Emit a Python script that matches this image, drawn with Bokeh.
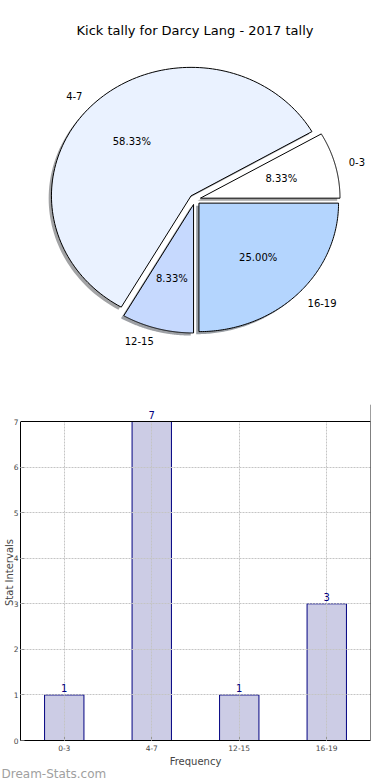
import numpy as np
from bokeh.plotting import figure
from bokeh.models import (Range1d, FactorRange, ColumnDataSource, LabelSet, Label, Title,
                          FixedTicker, Span, BoxAnnotation)
from bokeh.layouts import column
from bokeh.core.properties import value
from bokeh.embed import file_html
from bokeh.resources import INLINE

# ---------------- data ----------------
title_text = "Kick tally for Darcy Lang - 2017 tally"
categories = ["0-3", "4-7", "12-15", "16-19"]
counts = [1, 7, 1, 3]
slice_colors = ["#ffffff", "#eaf2ff", "#c6d9fe", "#b4d5fe"]
y_ticks = [0, 1, 2, 3, 4, 5, 6, 7]
y_max = 7
x_label = "Frequency"
y_label = "Stat Intervals"
watermark = "Dream-Stats.com"

FONT = "DejaVu Sans"
W = 390
BL, BR = 19, 20            # frame left / right border shared by both plots

# ---------------- pie ----------------
H1 = 400
SX, SY = 140.0, 128.5      # px per unit radius (x, y)
CXP, CYP = 194.0, 199.0    # pie centre on the page
EXPLODE = 0.04
SHADOW = 0.02
fw = W - BL - BR
cxf = CXP - BL

p1 = figure(width=W, height=H1, output_backend="svg", toolbar_location=None, title=None,
            x_range=Range1d(-cxf / SX, (fw - cxf) / SX),
            y_range=Range1d(-(H1 - CYP) / SY, CYP / SY),
            x_axis_location=None, y_axis_location=None,
            min_border_left=BL, min_border_right=BR, min_border_top=0, min_border_bottom=0)
p1.grid.visible = False
p1.outline_line_color = None

total = float(sum(counts))
xs, ys, sxs, sys_ = [], [], [], []
lab_l, lab_r, pct = dict(x=[], y=[], t=[]), dict(x=[], y=[], t=[]), dict(x=[], y=[], t=[])
theta = 0.0
for cat, c in zip(categories, counts):
    t1 = theta
    t2 = theta + 2 * np.pi * c / total
    tm = 0.5 * (t1 + t2)
    ex, ey = EXPLODE * np.cos(tm), EXPLODE * np.sin(tm)
    arc = np.linspace(t1, t2, 120)
    px = np.concatenate([[ex], ex + np.cos(arc), [ex]])
    py = np.concatenate([[ey], ey + np.sin(arc), [ey]])
    xs.append(px.tolist()); ys.append(py.tolist())
    sxs.append((px - SHADOW).tolist()); sys_.append((py - SHADOW).tolist())
    lx, ly = ex + 1.1 * np.cos(tm), ey + 1.1 * np.sin(tm)
    d = lab_l if lx > 0 else lab_r
    d["x"].append(lx); d["y"].append(ly); d["t"].append(cat)
    pct["x"].append(ex + 0.6 * np.cos(tm)); pct["y"].append(ey + 0.6 * np.sin(tm))
    pct["t"].append("%.2f%%" % (100.0 * c / total))
    theta = t2

def darker(h, f=0.3):
    r, g, b = int(h[1:3], 16), int(h[3:5], 16), int(h[5:7], 16)
    return "#%02x%02x%02x" % (int(r * f), int(g * f), int(b * f))

p1.patches(sxs, sys_, fill_color=[darker(c) for c in slice_colors], fill_alpha=0.5,
           line_color=None)
p1.patches(xs, ys, fill_color=slice_colors, line_color="black", line_width=1)

for d, al in ((lab_l, "left"), (lab_r, "right"), (pct, "center")):
    p1.text(x=d["x"], y=d["y"], text=d["t"], text_align=al, text_baseline="middle",
            text_font=value(FONT), text_font_size="10px", text_color="black")

p1.add_layout(Label(x=0, y=(CYP - 30) / SY, text=title_text,
                    text_align="center", text_baseline="middle",
                    text_font=FONT, text_font_size="13px", text_color="black"))

# ---------------- bars ----------------
H2 = 780 - H1
FT, FB = 421, 740                       # reference frame top / bottom (y = 0..7)
frame_top = 404                         # extended frame top (room for value labels)
pxu_y = (FB - FT) / float(y_max)
p2 = figure(width=W, height=H2, output_backend="svg", toolbar_location=None, title=None,
            x_range=FactorRange(*categories, range_padding=0),
            y_range=Range1d(0, (FB - frame_top) / pxu_y),
            min_border_left=BL, min_border_right=BR,
            min_border_top=frame_top - H1, min_border_bottom=780 - FB)
src = ColumnDataSource(dict(cat=categories, count=counts, lab=[str(c) for c in counts]))
p2.vbar(x="cat", top="count", width=0.45, source=src, fill_color="#cccce5",
        line_color="#000080", line_width=1)
p2.outline_line_color = None

for ax in (p2.xaxis[0], p2.yaxis[0]):
    ax.axis_line_color = "black"
    ax.major_tick_in = 4
    ax.major_tick_out = 0
    ax.minor_tick_line_color = None
    ax.major_label_text_font = FONT
    ax.major_label_text_font_size = "7.5px"
    ax.major_tick_line_color = "#666666"
    ax.axis_label_text_font = FONT
    ax.axis_label_text_font_size = "10px"
    ax.axis_label_text_font_style = "normal"
p2.yaxis[0].ticker = FixedTicker(ticks=y_ticks)
p2.yaxis[0].bounds = (0, y_max)
p2.yaxis[0].axis_label = y_label
p2.yaxis[0].major_label_standoff = 2
p2.yaxis[0].axis_label_standoff = -4
p2.xaxis[0].axis_label = x_label
p2.xaxis[0].major_label_standoff = 4
p2.xaxis[0].axis_label_standoff = 2

p2.grid.grid_line_color = "#c4c4c4"
p2.grid.grid_line_dash = "2 1"
p2.grid.grid_line_width = 1
p2.xgrid.level = "annotation"
p2.ygrid.level = "annotation"
p2.ygrid.ticker = FixedTicker(ticks=y_ticks)

# right edge of the axes box, then blank the extended area above y = 7
p2.add_layout(Span(location=len(categories), dimension="height", line_color="black",
                   line_width=1, level="overlay"))
p2.add_layout(BoxAnnotation(bottom=y_max, fill_color="white", fill_alpha=1,
                            line_color=None, level="overlay"))
p2.add_layout(Span(location=y_max, dimension="width", line_color="black",
                   line_width=1, level="overlay"))
p2.add_layout(LabelSet(x="cat", y="count", text="lab", source=src, y_offset=3,
                       text_align="center", text_baseline="bottom",
                       text_font=value(FONT), text_font_size="10px",
                       text_color="#000080", level="overlay"))

p2.add_layout(Title(text=watermark, align="left", offset=-BL, standoff=-9,
                    text_font=FONT, text_font_size="12px", text_font_style="normal",
                    text_color="#a0a0a0"), "below")

p = column(p1, p2, spacing=0)
open("out.html", "w").write(file_html(p, INLINE))
